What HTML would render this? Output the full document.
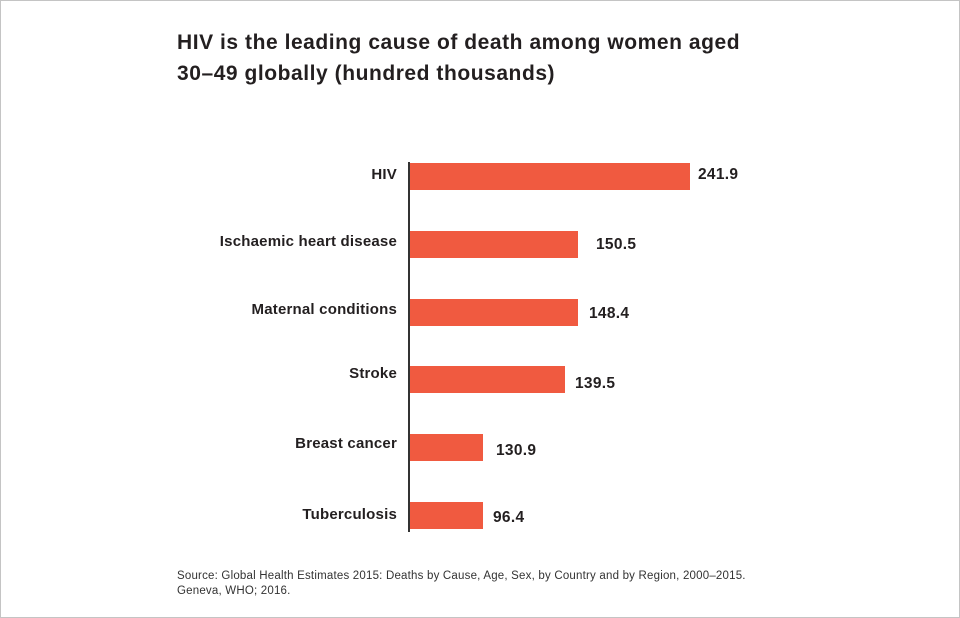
<!DOCTYPE html>
<html><head><meta charset="utf-8"><style>
body{margin:0;}
#c{position:relative;width:958px;height:616px;border:1px solid #c4c4c4;background:#fff;font-family:"Liberation Sans",sans-serif;color:#231f20;overflow:hidden}
.t{position:absolute;left:176px;font-size:21px;font-weight:bold;white-space:nowrap;letter-spacing:0.55px}
.b{position:absolute;left:409px;height:27px;background:#f05a40}
.l{position:absolute;right:562px;font-size:15px;font-weight:bold;white-space:nowrap;letter-spacing:0.2px}
.v{position:absolute;font-size:15.5px;font-weight:bold;letter-spacing:0.3px}
.s{position:absolute;left:176px;font-size:11.5px;color:#333;white-space:nowrap;letter-spacing:0.2px}
</style></head><body><div id="c">
<div class="t" style="top:30px">HIV is the leading cause of death among women aged</div>
<div class="t" style="top:61px">30–49 globally (hundred thousands)</div>
<div style="position:absolute;left:407px;top:161px;width:2px;height:370px;background:#333"></div>
<div class="b" style="top:162px;width:280px"></div>
<div class="b" style="top:230px;width:168px"></div>
<div class="b" style="top:298px;width:168px"></div>
<div class="b" style="top:365px;width:155px"></div>
<div class="b" style="top:433px;width:73px"></div>
<div class="b" style="top:501px;width:73px"></div>
<div class="l" style="top:165px">HIV</div>
<div class="l" style="top:232px">Ischaemic heart disease</div>
<div class="l" style="top:300px">Maternal conditions</div>
<div class="l" style="top:364px">Stroke</div>
<div class="l" style="top:434px">Breast cancer</div>
<div class="l" style="top:505px">Tuberculosis</div>
<div class="v" style="left:697px;top:165px">241.9</div>
<div class="v" style="left:595px;top:235px">150.5</div>
<div class="v" style="left:588px;top:304px">148.4</div>
<div class="v" style="left:574px;top:374px">139.5</div>
<div class="v" style="left:495px;top:441px">130.9</div>
<div class="v" style="left:492px;top:508px">96.4</div>
<div class="s" style="top:569px">Source: Global Health Estimates 2015: Deaths by Cause, Age, Sex, by Country and by Region, 2000–2015.</div>
<div class="s" style="top:584px">Geneva, WHO; 2016.</div>
</div></body></html>
